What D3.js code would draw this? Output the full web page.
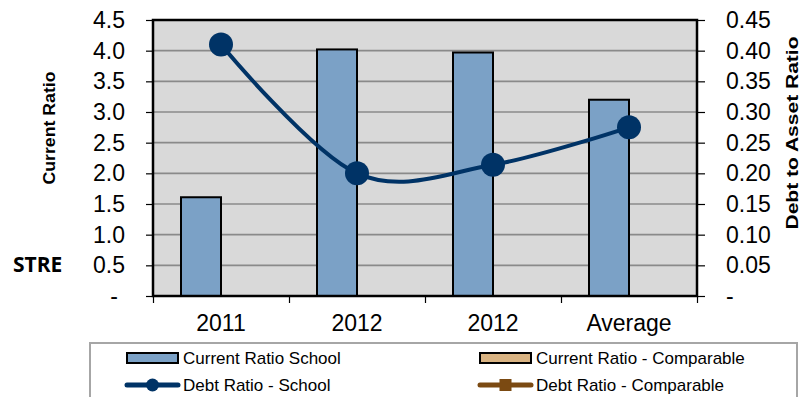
<!DOCTYPE html>
<html>
<head>
<meta charset="utf-8">
<script src="https://cdn.jsdelivr.net/npm/d3@7"></script>
<style>
  html, body { margin: 0; padding: 0; background: #fff; }
  svg { display: block; font-family: "Liberation Sans", Arial, sans-serif; }
</style>
</head>
<body>
<svg id="chart" width="806" height="397"></svg>
<script>
// Categories along the x axis
const categories = ["2011", "2012", "2012", "Average"];
// Current ratio (left axis, bars)
const currentRatioSchool = [1.61, 4.02, 3.97, 3.20];
// Debt-to-asset ratio (right axis, smoothed line)
const debtRatioSchool = [0.41, 0.20, 0.214, 0.275];
// Tick values for both value axes
const leftTicks = [0, 0.5, 1.0, 1.5, 2.0, 2.5, 3.0, 3.5, 4.0, 4.5];
const rightTicks = [0, 0.05, 0.10, 0.15, 0.20, 0.25, 0.30, 0.35, 0.40, 0.45];
// Legend entries
const legendItems = [
  { label: "Current Ratio School", kind: "bar", color: "#7BA1C6" },
  { label: "Current Ratio - Comparable", kind: "bar", color: "#D9B382" },
  { label: "Debt Ratio - School", kind: "line", color: "#003366", marker: "circle" },
  { label: "Debt Ratio - Comparable", kind: "line", color: "#7B4A12", marker: "square" }
];

const svg = d3.select("#chart");
const plot = { left: 153, top: 20, right: 697, bottom: 296 };

const idx = categories.map((_, i) => i);
const x = d3.scaleBand().domain(idx).range([plot.left, plot.right]).padding(0);
const xEdges = d3.scaleLinear().domain([0, categories.length]).range([plot.left, plot.right]);
const series = d3.scaleBand().domain(["School", "Comparable"]).range([-40, 40]);
const yL = d3.scaleLinear().domain([0, 4.5]).range([plot.bottom, plot.top]);
const yR = d3.scaleLinear().domain([0, 0.45]).range([plot.bottom, plot.top]);

// Plot background
svg.append("rect")
  .attr("x", plot.left).attr("y", plot.top)
  .attr("width", plot.right - plot.left).attr("height", plot.bottom - plot.top)
  .attr("fill", "#D9D9D9");

// Horizontal gridlines
svg.append("g").selectAll("line")
  .data(leftTicks.filter(d => d > 0 && d < 4.5))
  .join("line")
  .attr("x1", plot.left).attr("x2", plot.right)
  .attr("y1", d => yL(d)).attr("y2", d => yL(d))
  .attr("stroke", "#8A8A8A").attr("stroke-width", 1.6);

// Bars
svg.append("g").selectAll("rect")
  .data(currentRatioSchool)
  .join("rect")
  .attr("x", (d, i) => x(i) + x.bandwidth() / 2 + series("School"))
  .attr("y", d => yL(d))
  .attr("width", series.bandwidth())
  .attr("height", d => yL(0) - yL(d))
  .attr("fill", "#7BA1C6")
  .attr("stroke", "#000").attr("stroke-width", 2);

// Plot border
svg.append("rect")
  .attr("x", plot.left).attr("y", plot.top)
  .attr("width", plot.right - plot.left).attr("height", plot.bottom - plot.top)
  .attr("fill", "none").attr("stroke", "#000").attr("stroke-width", 2.5);

// Left axis
const fmtL = d => d === 0 ? "-" : d.toFixed(1);
const axL = svg.append("g")
  .attr("transform", `translate(${plot.left},0)`)
  .call(d3.axisLeft(yL).tickValues(leftTicks).tickFormat(fmtL).tickSize(7).tickPadding(21).tickSizeOuter(0));
axL.select(".domain").remove();
axL.selectAll(".tick line").attr("stroke", "#000").attr("stroke-width", 1.2);
axL.selectAll(".tick text").attr("font-size", 23).attr("fill", "#000")
  .attr("dx", d => d === 0 ? -7 : 0);

// Right axis
const fmtR = d => d === 0 ? "-" : d.toFixed(2);
const axR = svg.append("g")
  .attr("transform", `translate(${plot.right},0)`)
  .call(d3.axisRight(yR).tickValues(rightTicks).tickFormat(fmtR).tickSize(8).tickPadding(21).tickSizeOuter(0));
axR.select(".domain").remove();
axR.selectAll(".tick line").attr("stroke", "#000").attr("stroke-width", 1.2);
axR.selectAll(".tick text").attr("font-size", 23).attr("fill", "#000");

// Bottom axis: category boundary ticks
const axB = svg.append("g")
  .attr("transform", `translate(0,${plot.bottom})`)
  .call(d3.axisBottom(xEdges).tickValues(d3.range(categories.length + 1)).tickFormat("").tickSize(7).tickSizeOuter(0));
axB.select(".domain").remove();
axB.selectAll(".tick line").attr("stroke", "#000").attr("stroke-width", 1.2);

// Bottom axis: category labels
const axBL = svg.append("g")
  .attr("transform", `translate(0,${plot.bottom})`)
  .call(d3.axisBottom(x).tickFormat(i => categories[i]).tickSize(0).tickPadding(19));
axBL.select(".domain").remove();
axBL.selectAll(".tick text").attr("font-size", 23).attr("fill", "#000");

// Debt ratio line (smoothed) and markers
const cx = i => x(i) + x.bandwidth() / 2;
const line = d3.line()
  .x((d, i) => cx(i))
  .y(d => yR(d))
  .curve(d3.curveCatmullRom.alpha(0));
svg.append("path")
  .datum(debtRatioSchool)
  .attr("d", line)
  .attr("fill", "none").attr("stroke", "#003366").attr("stroke-width", 4);
svg.append("g").selectAll("circle")
  .data(debtRatioSchool)
  .join("circle")
  .attr("cx", (d, i) => cx(i)).attr("cy", d => yR(d)).attr("r", 12)
  .attr("fill", "#003366");

// Axis titles
svg.append("text")
  .attr("transform", "translate(55,128) rotate(-90)")
  .attr("text-anchor", "middle")
  .attr("font-size", 16).attr("font-weight", "bold")
  .attr("textLength", 113).attr("lengthAdjust", "spacingAndGlyphs")
  .text("Current Ratio");
svg.append("text")
  .attr("transform", "translate(798,133) rotate(-90)")
  .attr("text-anchor", "middle")
  .attr("font-size", 16).attr("font-weight", "bold")
  .attr("textLength", 193).attr("lengthAdjust", "spacingAndGlyphs")
  .text("Debt to Asset Ratio");

// Side label
svg.append("text")
  .attr("x", 13).attr("y", 272)
  .attr("font-family", "'Open Sans', sans-serif")
  .attr("font-size", 21).attr("font-weight", 700)
  .text("STRE");

// Legend
const lg = svg.append("g");
lg.append("rect")
  .attr("x", 90).attr("y", 343).attr("width", 707).attr("height", 70)
  .attr("fill", "#fff").attr("stroke", "#A6A6A6").attr("stroke-width", 2);
const colX = [127, 480];
const rowY = [358, 385];
legendItems.forEach((item, k) => {
  const col = k % 2, row = Math.floor(k / 2);
  const x0 = colX[col], yc = rowY[row], w = 51;
  const g = lg.append("g");
  if (item.kind === "bar") {
    g.append("rect").attr("x", x0).attr("y", yc - 5).attr("width", w).attr("height", 10)
      .attr("fill", item.color).attr("stroke", "#000").attr("stroke-width", 2);
  } else {
    g.append("line").attr("x1", x0).attr("x2", x0 + w).attr("y1", yc).attr("y2", yc)
      .attr("stroke", item.color).attr("stroke-width", 5).attr("stroke-linecap", "round");
    if (item.marker === "circle") {
      g.append("circle").attr("cx", x0 + w / 2).attr("cy", yc).attr("r", 6.5).attr("fill", item.color);
    } else {
      g.append("rect").attr("x", x0 + w / 2 - 6).attr("y", yc - 6).attr("width", 12).attr("height", 12)
        .attr("fill", item.color);
    }
  }
  g.append("text").attr("x", x0 + w + 5).attr("y", yc + 6)
    .attr("font-size", 17).attr("fill", "#000")
    .text(item.label);
});
</script>
</body>
</html>
